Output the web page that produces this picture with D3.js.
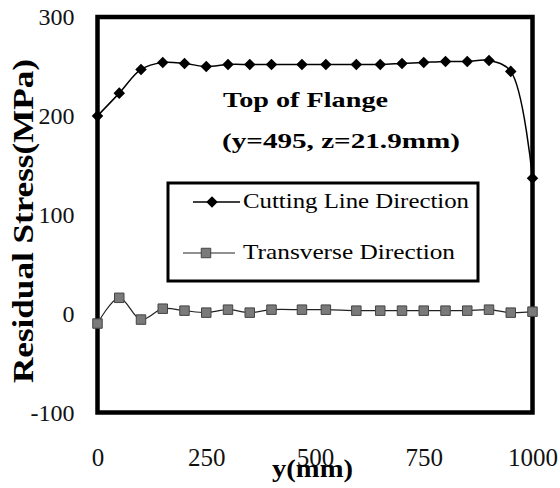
<!DOCTYPE html>
<html>
<head>
<meta charset="utf-8">
<script src="https://cdn.jsdelivr.net/npm/d3@7"></script>
<style>
  body { margin: 0; background: #fff; }
  text { font-family: "Liberation Serif", "Times New Roman", Times, serif; }
</style>
</head>
<body>
<div id="chart"></div>
<script>
// positions along the cutting line, mm
var positions = [0, 50, 100, 150, 200, 250, 300, 350, 400, 470, 525, 595, 650, 700, 750, 800, 850, 900, 950, 1000];
var cuttingLine = [200, 223, 247, 254, 253, 250, 252, 252, 252, 252, 252, 252, 252, 253, 254, 255, 255, 256, 245, 137];
var transverse = [-10, 16, -6, 5, 3, 1, 4, 1, 4, 4, 4, 3, 3, 3, 3, 3, 3, 4, 1, 2];
var xTicks = [0, 250, 500, 750, 1000];
var yTicks = [-100, 0, 100, 200, 300];

var W = 560, H = 488;
var box = { left: 97.5, right: 532.5, top: 17, bottom: 412.5 };

var svg = d3.select("#chart").append("svg")
    .attr("width", W)
    .attr("height", H);

var x = d3.scaleLinear().domain([0, 1000]).range([box.left, box.right]);
var y = d3.scaleLinear().domain([-100, 300]).range([box.bottom, box.top]);

var plain = function (d) { return String(d); };

// axes, labels only (frame drawn below)
var axisX = svg.append("g")
    .attr("transform", "translate(0," + box.bottom + ")")
    .call(d3.axisBottom(x).tickValues(xTicks).tickSize(0).tickPadding(36).tickFormat(plain));
axisX.select(".domain").remove();
axisX.selectAll("text")
    .style("font-size", "25px")
    .style("font-family", "Liberation Serif")
    .style("fill", "#111");

var axisY = svg.append("g")
    .attr("transform", "translate(" + box.left + ",0)")
    .call(d3.axisLeft(y).tickValues(yTicks).tickSize(0).tickPadding(23).tickFormat(plain));
axisY.select(".domain").remove();
axisY.selectAll("text")
    .style("font-size", "24px")
    .style("font-family", "Liberation Serif")
    .style("fill", "#111");

// plot frame
svg.append("rect")
    .attr("x", box.left)
    .attr("y", box.top)
    .attr("width", box.right - box.left)
    .attr("height", box.bottom - box.top)
    .attr("fill", "none")
    .attr("stroke", "#000")
    .attr("stroke-width", 4.5);

var line = d3.line()
    .x(function (d) { return x(d[0]); })
    .y(function (d) { return y(d[1]); })
    .curve(d3.curveCatmullRom.alpha(0.5));

var cutData = positions.map(function (p, i) { return [p, cuttingLine[i]]; });
var trData = positions.map(function (p, i) { return [p, transverse[i]]; });

svg.append("path")
    .datum(trData)
    .attr("d", line)
    .attr("fill", "none")
    .attr("stroke", "#222")
    .attr("stroke-width", 1.2);

svg.append("path")
    .datum(cutData)
    .attr("d", line)
    .attr("fill", "none")
    .attr("stroke", "#000")
    .attr("stroke-width", 1.5);

var diamond = d3.symbol().type(d3.symbolDiamond2).size(85);
var square = d3.symbol().type(d3.symbolSquare).size(90);

svg.selectAll(".tr")
    .data(trData)
    .enter().append("path")
    .attr("class", "tr")
    .attr("d", square)
    .attr("transform", function (d) { return "translate(" + x(d[0]) + "," + y(d[1]) + ")"; })
    .attr("fill", "#7a7a7a")
    .attr("stroke", "#444")
    .attr("stroke-width", 1);

svg.selectAll(".cut")
    .data(cutData)
    .enter().append("path")
    .attr("class", "cut")
    .attr("d", diamond)
    .attr("transform", function (d) { return "translate(" + x(d[0]) + "," + y(d[1]) + ")"; })
    .attr("fill", "#000");

// annotation
svg.append("text")
    .attr("x", 223).attr("y", 107)
    .style("font-size", "22px").style("font-weight", "bold")
    .attr("textLength", 165).attr("lengthAdjust", "spacingAndGlyphs")
    .text("Top of Flange");
svg.append("text")
    .attr("x", 222).attr("y", 148)
    .style("font-size", "22px").style("font-weight", "bold")
    .attr("textLength", 238).attr("lengthAdjust", "spacingAndGlyphs")
    .text("(y=495, z=21.9mm)");

// legend
var legend = svg.append("g");
legend.append("rect")
    .attr("x", 168).attr("y", 183)
    .attr("width", 310).attr("height", 98)
    .attr("fill", "#fff")
    .attr("stroke", "#000")
    .attr("stroke-width", 3);

legend.append("line")
    .attr("x1", 193).attr("x2", 240).attr("y1", 202).attr("y2", 202)
    .attr("stroke", "#000").attr("stroke-width", 1.5);
legend.append("path")
    .attr("d", diamond)
    .attr("transform", "translate(212,202)")
    .attr("fill", "#000");
legend.append("text")
    .attr("x", 243).attr("y", 208)
    .style("font-size", "21px")
    .attr("textLength", 226).attr("lengthAdjust", "spacingAndGlyphs")
    .text("Cutting Line Direction");

legend.append("line")
    .attr("x1", 183).attr("x2", 235).attr("y1", 253).attr("y2", 253)
    .attr("stroke", "#222").attr("stroke-width", 1.2);
legend.append("path")
    .attr("d", square)
    .attr("transform", "translate(206,253)")
    .attr("fill", "#7a7a7a")
    .attr("stroke", "#444");
legend.append("text")
    .attr("x", 243).attr("y", 259)
    .style("font-size", "21px")
    .attr("textLength", 212).attr("lengthAdjust", "spacingAndGlyphs")
    .text("Transverse Direction");

// axis titles
svg.append("text")
    .attr("transform", "translate(33,221) rotate(-90)")
    .attr("text-anchor", "middle")
    .style("font-size", "30px").style("font-weight", "bold")
    .attr("textLength", 324).attr("lengthAdjust", "spacingAndGlyphs")
    .text("Residual Stress(MPa)");

svg.append("text")
    .attr("x", 312.5).attr("y", 477)
    .attr("text-anchor", "middle")
    .style("font-size", "26px").style("font-weight", "bold")
    .attr("textLength", 81).attr("lengthAdjust", "spacingAndGlyphs")
    .text("y(mm)");
</script>
</body>
</html>
